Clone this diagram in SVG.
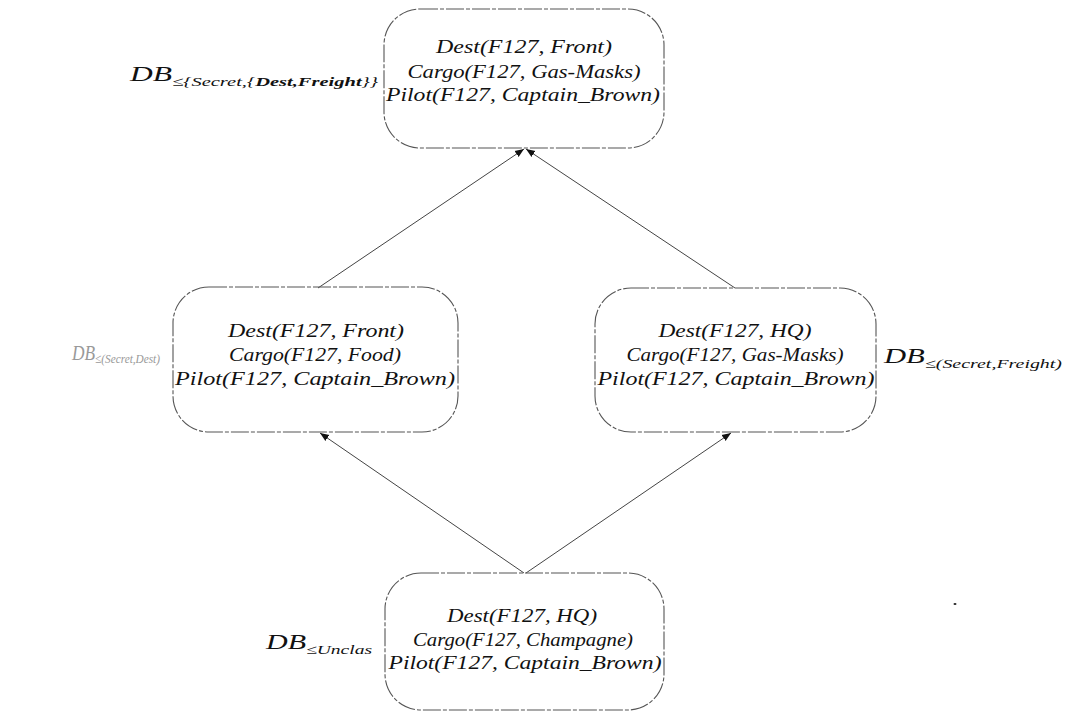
<svg xmlns="http://www.w3.org/2000/svg" width="1068" height="712" viewBox="0 0 1068 712">
<style>
.box{fill:none;stroke:#555;stroke-width:1.1;stroke-dasharray:18 2 4 2}
.t{font-family:"Liberation Serif","DejaVu Serif",serif;font-style:italic;font-size:19px;fill:#111;text-anchor:middle}
.lbl{font-family:"Liberation Serif","DejaVu Serif",serif;font-style:italic;font-size:20px;fill:#111}
.sub{font-size:13px}
.faint{fill:#999}
.edge{stroke:#444;stroke-width:1;fill:none;marker-end:url(#ah)}
</style>
<defs>
<marker id="ah" viewBox="0 0 10 10" refX="10" refY="5" markerWidth="9" markerHeight="9" orient="auto" markerUnits="userSpaceOnUse">
<path d="M0,1 L10,5 L0,9 Z" fill="#111"/>
</marker>
</defs>
<rect width="1068" height="712" fill="#fff"/>
<g id="connectors">
<line class="edge" x1="318" y1="288" x2="524" y2="149"/>
<line class="edge" x1="735" y1="288" x2="526" y2="149"/>
<line class="edge" x1="524" y1="573" x2="320" y2="433"/>
<line class="edge" x1="526" y1="573" x2="731" y2="433"/>
</g>
<g id="top">
<rect class="box" x="384" y="9" width="280" height="139" rx="36"/>
<text class="t" x="524" y="53" textLength="176" lengthAdjust="spacingAndGlyphs">Dest(F127, Front)</text>
<text class="t" x="524" y="78" textLength="233" lengthAdjust="spacingAndGlyphs">Cargo(F127, Gas-Masks)</text>
<text class="t" x="523" y="101" textLength="274" lengthAdjust="spacingAndGlyphs">Pilot(F127, Captain_Brown)</text>
</g>
<g id="top-label">
<text class="lbl" x="130" y="81" textLength="248" lengthAdjust="spacingAndGlyphs">DB<tspan class="sub" dy="5">≤{Secret,{</tspan><tspan class="sub" font-weight="bold">Dest,Freight</tspan><tspan class="sub">}}</tspan></text>
</g>
<g id="left">
<rect class="box" x="173" y="287" width="285" height="145" rx="36"/>
<text class="t" x="316" y="337" textLength="176" lengthAdjust="spacingAndGlyphs">Dest(F127, Front)</text>
<text class="t" x="315" y="361" textLength="172" lengthAdjust="spacingAndGlyphs">Cargo(F127, Food)</text>
<text class="t" x="315" y="385" textLength="280" lengthAdjust="spacingAndGlyphs">Pilot(F127, Captain_Brown)</text>
</g>
<g id="left-label">
<text class="lbl faint" x="72" y="360" font-size="15" textLength="88" lengthAdjust="spacingAndGlyphs">DB<tspan class="sub" dy="3" font-size="10">≤(Secret,Dest)</tspan></text>
</g>
<g id="right">
<rect class="box" x="595" y="288" width="281" height="144" rx="36"/>
<text class="t" x="735" y="337" textLength="153" lengthAdjust="spacingAndGlyphs">Dest(F127, HQ)</text>
<text class="t" x="735" y="361" textLength="217" lengthAdjust="spacingAndGlyphs">Cargo(F127, Gas-Masks)</text>
<text class="t" x="736" y="385" textLength="277" lengthAdjust="spacingAndGlyphs">Pilot(F127, Captain_Brown)</text>
</g>
<g id="right-label">
<text class="lbl" x="884" y="363" textLength="178" lengthAdjust="spacingAndGlyphs">DB<tspan class="sub" dy="5">≤(Secret,Freight)</tspan></text>
</g>
<g id="bottom">
<rect class="box" x="385" y="573" width="279" height="137" rx="36"/>
<text class="t" x="522" y="622" textLength="150" lengthAdjust="spacingAndGlyphs">Dest(F127, HQ)</text>
<text class="t" x="523" y="646" textLength="220" lengthAdjust="spacingAndGlyphs">Cargo(F127, Champagne)</text>
<text class="t" x="525" y="669" textLength="273" lengthAdjust="spacingAndGlyphs">Pilot(F127, Captain_Brown)</text>
</g>
<g id="bottom-label">
<text class="lbl" x="266" y="649" textLength="106" lengthAdjust="spacingAndGlyphs">DB<tspan class="sub" dy="5" font-size="14">≤Unclas</tspan></text>
</g>
<ellipse cx="955" cy="604" rx="1.5" ry="1" fill="#222"/>
</svg>
